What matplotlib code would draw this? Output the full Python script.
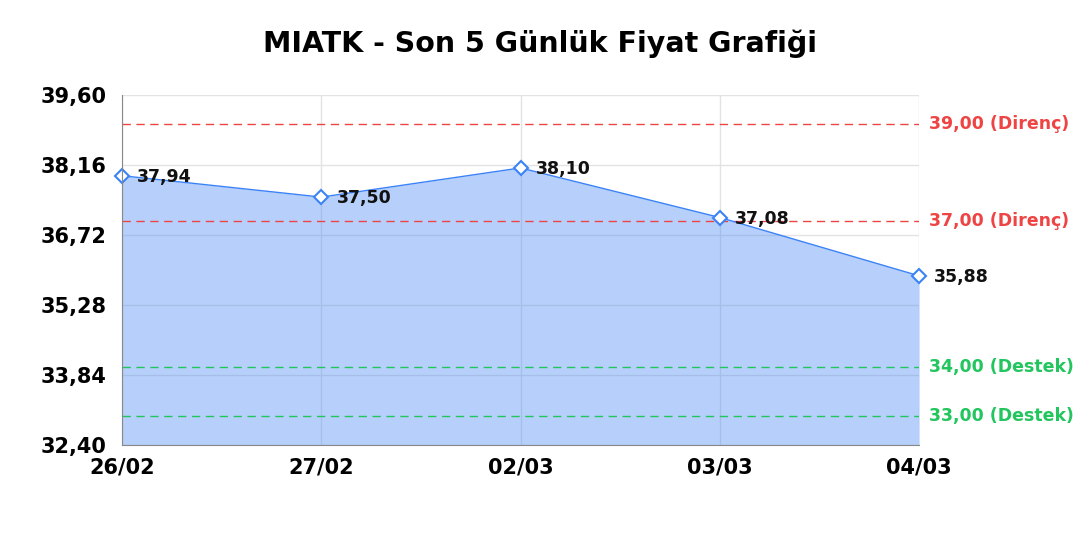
import matplotlib
matplotlib.use('Agg')
import matplotlib.pyplot as plt
import numpy as np

plt.rcParams['font.family'] = ['DejaVu Sans']

dates = ['26/02', '27/02', '02/03', '03/03', '04/03']
prices = [37.94, 37.50, 38.10, 37.08, 35.88]
price_labels = ['37,94', '37,50', '38,10', '37,08', '35,88']
resistance = [39.00, 37.00]
support = [34.00, 33.00]
yticks = [32.40, 33.84, 35.28, 36.72, 38.16, 39.60]
ytick_labels = ['32,40', '33,84', '35,28', '36,72', '38,16', '39,60']

fig = plt.figure(figsize=(10.8, 5.4), dpi=100)
ax = fig.add_axes([0.113, 0.176, 0.738, 0.648])

x = np.arange(len(dates))
ax.fill_between(x, prices, 32.40, color='#3b82f6', alpha=0.37, linewidth=0, zorder=1)
ax.plot(x, prices, color='#3b82f6', linewidth=1, zorder=3)
ax.plot(x, prices, linestyle='none', marker='D', markersize=7, markerfacecolor='white',
        markeredgecolor='#3b82f6', markeredgewidth=1.5, zorder=4, clip_on=False)

for xi, yi, lab in zip(x, prices, price_labels):
    ax.annotate(lab, (xi, yi), xytext=(11, -1), textcoords='offset points',
                fontsize=12.5, fontweight='bold', color='#111111', va='center',
                annotation_clip=False, zorder=5)

for lvl in resistance:
    ax.axhline(lvl, color='#ef4444', linestyle=(0, (6, 4)), linewidth=1, zorder=2)
    ax.text(1.013, lvl, f'{lvl:.2f}'.replace('.', ',') + ' (Direnç)', transform=ax.get_yaxis_transform(),
            color='#ef4444', fontsize=12.5, fontweight='bold', va='center')
for lvl in support:
    ax.axhline(lvl, color='#22c55e', linestyle=(0, (6, 4)), linewidth=1, zorder=2)
    ax.text(1.013, lvl, f'{lvl:.2f}'.replace('.', ',') + ' (Destek)', transform=ax.get_yaxis_transform(),
            color='#22c55e', fontsize=12.5, fontweight='bold', va='center')

ax.set_xlim(0, len(dates) - 1)
ax.set_ylim(32.40, 39.60)
ax.set_xticks(x)
ax.set_xticklabels(dates, fontsize=15, fontweight='bold')
ax.set_yticks(yticks)
ax.set_yticklabels(ytick_labels, fontsize=15, fontweight='bold')
ax.tick_params(axis='y', length=0, pad=11)
ax.tick_params(axis='x', length=0, pad=9)
ax.grid(True, color='#e3e3e3', linewidth=1, zorder=0)
ax.set_axisbelow(True)
for s in ['top', 'right']:
    ax.spines[s].set_visible(False)
ax.spines['left'].set_color('#888888')
ax.spines['bottom'].set_color('#888888')
ax.spines['left'].set_zorder(6)
ax.spines['bottom'].set_zorder(6)

fig.suptitle('MIATK - Son 5 Günlük Fiyat Grafiği', fontsize=20.5, fontweight='bold', y=0.945)

fig.savefig('out.png', dpi=100)
